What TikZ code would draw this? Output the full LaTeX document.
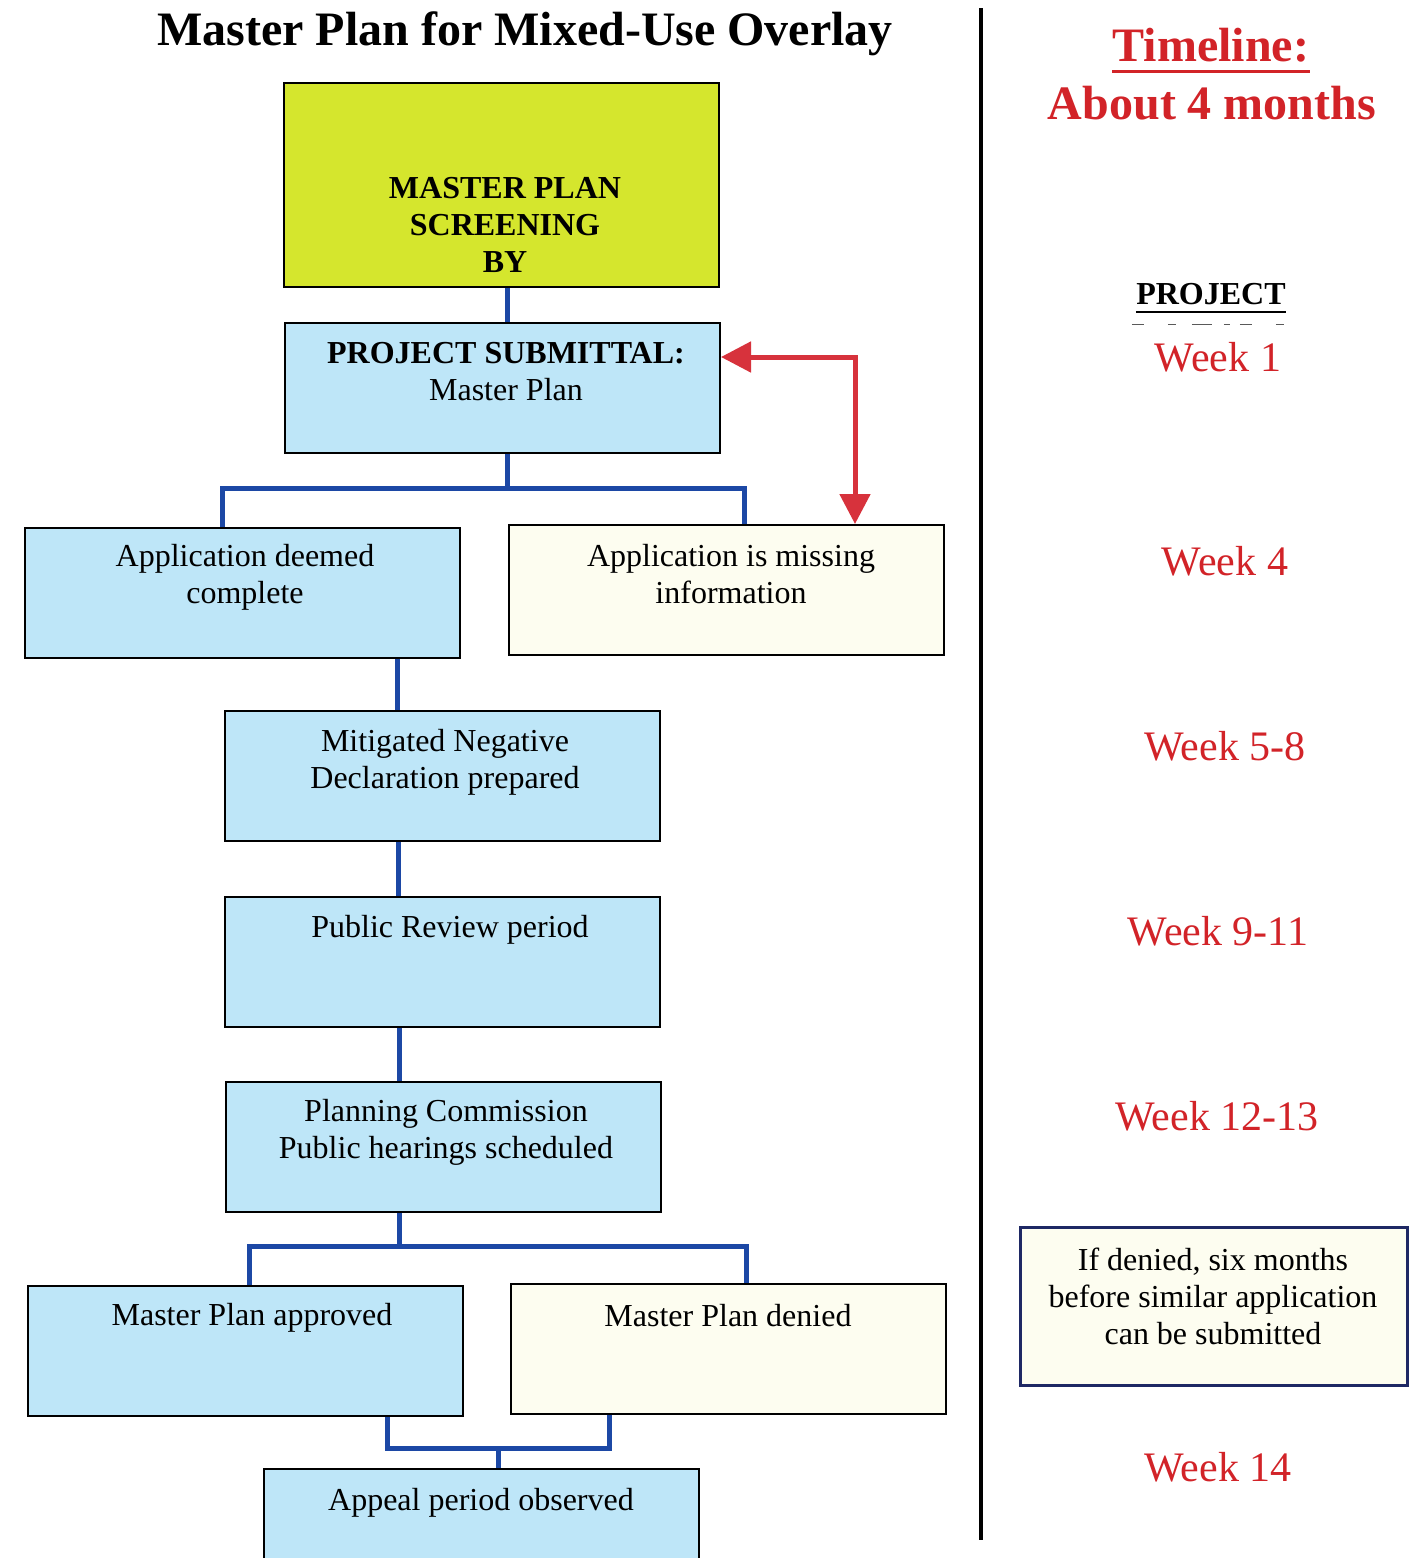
\documentclass[tikz,border=0pt]{standalone}
\usepackage{fontspec}
\setmainfont{Liberation Serif}
\usetikzlibrary{arrows.meta,calc}
\definecolor{boxblue}{RGB}{190,230,248}
\definecolor{boxcream}{RGB}{253,253,240}
\definecolor{boxlime}{RGB}{213,230,45}
\definecolor{connblue}{RGB}{28,72,165}
\definecolor{arrred}{RGB}{215,50,60}
\definecolor{txtred}{RGB}{210,35,40}
\definecolor{navy}{RGB}{30,40,100}
\begin{document}
\begin{tikzpicture}[x=0.5pt,y=-0.5pt,
  basebox/.style={draw=black, line width=1pt, inner sep=0pt, anchor=north west,
    minimum width=217.5pt, minimum height=65pt},
  bluebox/.style={basebox, fill=boxblue},
  creambox/.style={basebox, fill=boxcream},
  limebox/.style={basebox, fill=boxlime, minimum height=102pt},
  notebox/.style={basebox, fill=boxcream, draw=navy, line width=1.3pt,
    minimum width=193.5pt, minimum height=79pt},
  txt/.style={font=\fontsize{16}{18.5}\selectfont, align=center, inner sep=0pt},
  btxt/.style={font=\fontsize{16}{18.5}\selectfont\bfseries, align=center, inner sep=0pt},
  week/.style={font=\fontsize{21}{24}\selectfont, text=txtred, inner sep=0pt},
  bigred/.style={font=\fontsize{24}{28}\selectfont\bfseries, text=txtred, inner sep=0pt},
  conn/.style={draw=connblue, line width=2.5pt},
  redconn/.style={draw=arrred, line width=2.5pt},
]
\clip (0,0) rectangle (1421,1558);
\fill[white] (0,0) rectangle (1421,1558);

% title
\node[font=\fontsize{24}{28}\selectfont\bfseries, inner sep=0pt] (title) at (525,34) {Master Plan for Mixed-Use Overlay};

% boxes
\node[limebox] (scr) at (283,82) {};
\node[bluebox] (sub) at (284,322) {};
\node[bluebox] (comp) at (24,527) {};
\node[creambox] (miss) at (508,524) {};
\node[bluebox] (mit) at (224,710) {};
\node[bluebox] (rev) at (224,896) {};
\node[bluebox] (plan) at (225,1081) {};
\node[bluebox] (app) at (27,1285) {};
\node[creambox] (den) at (510,1283) {};
\node[bluebox] (appeal) at (263,1468) {};
\node[notebox] (note) at (1019,1226) {};

% box texts
\node[btxt] (scr-t) at (505,225) {MASTER PLAN\\SCREENING\\BY};
\node[txt] (sub-t) at (506,372) {\textbf{PROJECT SUBMITTAL:}\\Master Plan};
\node[txt] (comp-t) at (245,577) {Application deemed\\complete};
\node[txt] (miss-t) at (731,574) {Application is missing\\information};
\node[txt] (mit-t) at (445,762) {Mitigated Negative\\Declaration prepared};
\node[txt] (rev-t) at (450,930) {Public Review period};
\node[txt] (plan-t) at (446,1132) {Planning Commission\\Public hearings scheduled};
\node[txt] (app-t) at (252,1318) {Master Plan approved};
\node[txt] (den-t) at (728,1316) {Master Plan denied};
\node[txt] (appeal-t) at (481,1503) {Appeal period observed};
\node[txt] (note-t) at (1213,1296) {If denied, six months\\before similar application\\can be submitted};

% connector coordinates
\coordinate (c1) at (507,0);
\coordinate (j1) at (507,488);
\coordinate (l1) at (222,488);
\coordinate (r1) at (744,488);
\coordinate (v1) at (397,0);
\coordinate (v2) at (398,0);
\coordinate (v3) at (399,0);
\coordinate (j2) at (399,1246);
\coordinate (l2) at (249,1246);
\coordinate (r2) at (746,1246);
\coordinate (l3) at (387,1448);
\coordinate (r3) at (609,1448);
\coordinate (j3) at (498,1448);
\coordinate (rc) at (855,357);

% blue connectors
\draw[conn] (scr.south -| c1) -- (sub.north -| c1);
\draw[conn] (sub.south -| j1) -- (j1);
\draw[conn] (comp.north -| l1) -- (l1) -- (r1) -- (miss.north -| r1);
\draw[conn] (comp.south -| v1) -- (mit.north -| v1);
\draw[conn] (mit.south -| v2) -- (rev.north -| v2);
\draw[conn] (rev.south -| v3) -- (plan.north -| v3);
\draw[conn] (plan.south -| j2) -- (j2);
\draw[conn] (app.north -| l2) -- (l2) -- (r2) -- (den.north -| r2);
\draw[conn] (app.south -| l3) -- (l3) -- (r3) -- (den.south -| r3);
\draw[conn] (j3) -- (appeal.north -| j3);

% red double arrow
\draw[redconn, {Triangle[length=15pt,width=15pt]}-{Triangle[length=15pt,width=15pt]}]
  (sub.east |- rc) -- (rc) -- (rc |- miss.north);

% divider
\draw[line width=2pt] (981,8) -- (981,1540);

% timeline column
\node[bigred] (tl) at (1211,45) {Timeline:};
\draw[txtred, line width=1.5pt] ([yshift=-5pt]tl.base west) -- ([yshift=-5pt]tl.base east);
\node[bigred] (about) at (1212,103) {About 4 months};
\node[btxt] (proj) at (1211,294) {PROJECT};
\draw[line width=1pt] ([yshift=-4pt]proj.base west) -- ([yshift=-4pt]proj.base east);
\draw[gray!70!black, line width=0.9pt, dash pattern=on 6pt off 12pt on 4pt off 8pt on 10pt off 6pt on 3pt off 5pt]
  ([xshift=-2pt,yshift=-10pt]proj.base west) -- ([xshift=6pt,yshift=-10pt]proj.base east);
\node[week] (w1) at (1218,357) {Week 1};
\node[week] (w4) at (1225,561) {Week 4};
\node[week] (w58) at (1225,746) {Week 5-8};
\node[week] (w911) at (1218,931) {Week 9-11};
\node[week] (w1213) at (1217,1116) {Week 12-13};
\node[week] (w14) at (1218,1467) {Week 14};
\end{tikzpicture}
\end{document}
